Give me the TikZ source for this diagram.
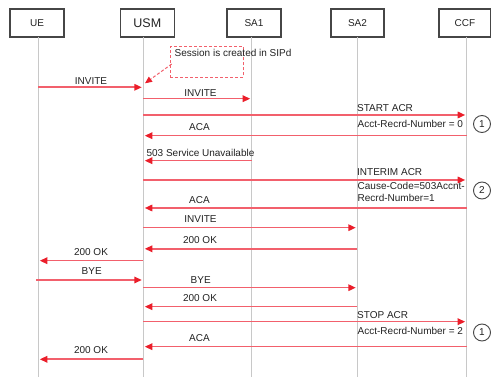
\documentclass[tikz,border=0pt]{standalone}
\usepackage{fontspec}
\setmainfont{Liberation Sans}
\usetikzlibrary{arrows.meta}
\definecolor{msgred}{RGB}{242,96,108}
\definecolor{tipred}{RGB}{235,30,42}
\definecolor{lifegray}{RGB}{200,200,200}
\definecolor{boxgray}{RGB}{70,70,70}
\definecolor{txt}{RGB}{35,35,35}
\begin{document}
\begin{tikzpicture}[x=1pt,y=-1pt,
  actor/.style={draw=boxgray,line width=1.1pt,minimum height=28pt,inner sep=0pt,
    font=\fontsize{10}{12}\selectfont,text=txt},
  life/.style={draw=lifegray,line width=1pt},
  msg/.style={draw=msgred,line width=1.6pt,shorten >=1.5pt,
    -{Triangle[length=7.5pt,width=6.5pt,color=tipred]}},
  lbl/.style={font=\fontsize{10}{12}\selectfont,text=txt,inner sep=0pt,
    text height=7.2pt,text depth=0pt},
  lbll/.style={lbl,anchor=west},
  num/.style={circle,draw=boxgray,line width=0.9pt,minimum size=17pt,inner sep=0pt,
    font=\fontsize{10}{12}\selectfont,text=txt},
  note/.style={draw=msgred,line width=1pt,dash pattern=on 3pt off 2pt},
  notearrow/.style={draw=msgred,line width=1pt,dash pattern=on 3pt off 2pt,
    -{Triangle[length=7pt,width=6pt,color=tipred]}}
]
\useasboundingbox (0,0) rectangle (491,377);
\fill[white] (0,0) rectangle (491,377);

% actors
\node[actor,minimum width=54pt] (ue) at (37,23) {UE};
\node[actor,minimum width=53.5pt,font=\fontsize{12.5}{14}\selectfont] (usm) at (147.3,23) {\raisebox{-1.5pt}{USM}};
\node[actor,minimum width=54pt] (sa1) at (254,23) {SA1};
\node[actor,minimum width=53pt] (sa2) at (357.5,23) {SA2};
\node[actor,minimum width=52pt] (ccf) at (465,23) {CCF};

% lifelines
\coordinate (ueL) at (38.3,37);
\coordinate (usmL) at (143.3,37);
\coordinate (saoneL) at (251.7,37);
\coordinate (satwoL) at (357.3,37);
\coordinate (ccfL) at (466.7,37);
\coordinate (bot) at (0,377);
\foreach \c in {ueL,usmL,saoneL,satwoL,ccfL}
  \draw[life] (\c) -- (\c |- bot);

% note
\node[note,minimum width=73pt,minimum height=30.6pt,inner sep=0pt] (notebox) at (206.5,62) {};
\node[lbll] (notetxt) at (174.5,53) {Session is created in SIPd};
\coordinate (notefoot) at (171.7,64);
\draw[notearrow] (notefoot) -- (145,83.3);

% messages
\draw[msg] (ueL |- 0,87.3) -- (usmL |- 0,87.3);
\node[lbl] (m1) at (91,81) {INVITE};

\draw[msg] (usmL |- 0,98.7) -- (saoneL |- 0,98.7);
\node[lbl] (m2) at (200.5,93) {INVITE};

\draw[msg] (usmL |- 0,115) -- (ccfL |- 0,115);
\node[lbll] (m3) at (357,108.3) {START ACR};
\node[lbll] (m3b) at (357.5,124) {Acct-Recrd-Number = 0};
\node[num] (c1) at (482,124) {1};

\draw[msg] (ccfL |- 0,135.7) -- (usmL |- 0,135.7);
\node[lbl] (m4) at (199.5,127) {ACA};

\draw[msg] (saoneL |- 0,160.7) -- (usmL |- 0,160.7);
\node[lbl] (m5) at (200.5,152.5) {503 Service Unavailable};

\draw[msg] (usmL |- 0,180) -- (ccfL |- 0,180);
\node[lbll] (m6) at (357,172.3) {INTERIM ACR};
\node[lbll,align=left,text height=,anchor=north west] (m6b) at (357.5,182.5)
  {Cause-Code=503Accnt-\\[-0.5pt]Recrd-Number=1};
\node[num] (c2) at (482,190.5) {2};

\draw[msg] (ccfL |- 0,208) -- (usmL |- 0,208);
\node[lbl] (m7) at (199.5,199.5) {ACA};

\draw[msg] (usmL |- 0,227.7) -- (satwoL |- 0,227.7);
\node[lbl] (m8) at (200.5,219.2) {INVITE};

\draw[msg] (satwoL |- 0,248.8) -- (usmL |- 0,248.8);
\node[lbl] (m9) at (200,240) {200 OK};

\draw[msg] (usmL |- 0,260.7) -- (ueL |- 0,260.7);
\node[lbl] (m10) at (91,251.7) {200 OK};

\draw[msg] (36,280) -- (usmL |- 0,280);
\node[lbl] (m11) at (91.7,270.7) {BYE};

\draw[msg] (usmL |- 0,287.7) -- (satwoL |- 0,287.7);
\node[lbl] (m12) at (200.7,280) {BYE};

\draw[msg] (satwoL |- 0,306.7) -- (usmL |- 0,306.7);
\node[lbl] (m13) at (200,298.3) {200 OK};

\draw[msg] (usmL |- 0,321.7) -- (ccfL |- 0,321.7);
\node[lbll] (m14) at (357,314.8) {STOP ACR};
\node[lbll] (m14b) at (357.5,330.5) {Acct-Recrd-Number = 2};
\node[num] (c3) at (482,332.5) {1};

\draw[msg] (ccfL |- 0,346.7) -- (usmL |- 0,346.7);
\node[lbl] (m15) at (199.5,338.3) {ACA};

\draw[msg] (usmL |- 0,359.3) -- (ueL |- 0,359.3);
\node[lbl] (m16) at (91,350.3) {200 OK};
\end{tikzpicture}
\end{document}
